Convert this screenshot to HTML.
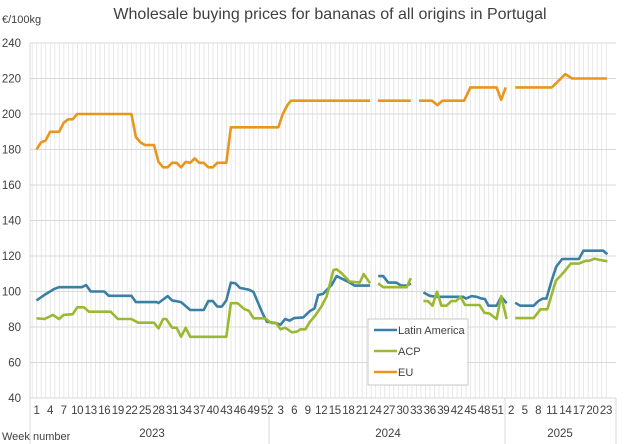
<!DOCTYPE html>
<html><head><meta charset="utf-8"><style>
body{margin:0;background:#fff;}
svg{display:block;font-family:"Liberation Sans",sans-serif;}
</style></head><body>
<svg id="c" width="625" height="444" xmlns="http://www.w3.org/2000/svg">
<rect width="625" height="444" fill="#fff"/>
<g id="grid"></g>
<text x="330" y="19" text-anchor="middle" font-size="16" fill="#404040">Wholesale buying prices for bananas of all origins in Portugal</text>
<text x="2" y="23" font-size="11" fill="#404040">€/100kg</text>
<g id="ylab" font-size="11.5" fill="#404040" text-anchor="end"></g>
<g id="xlab" font-size="11.5" fill="#404040" text-anchor="middle" letter-spacing="-0.3"></g>
<text x="2" y="440" font-size="11" fill="#404040">Week number</text>
<text x="152" y="437" font-size="11.5" fill="#404040" text-anchor="middle">2023</text>
<text x="388" y="437" font-size="11.5" fill="#404040" text-anchor="middle">2024</text>
<text x="560" y="437" font-size="11.5" fill="#404040" text-anchor="middle">2025</text>
<g id="series" fill="none" stroke-width="2.6" stroke-linejoin="round"></g>
<rect x="368" y="319" width="100" height="66" fill="#fff" stroke="#bbb" stroke-width="0.8"/>
<line x1="374" y1="330" x2="397" y2="330" stroke="#3a7fa4" stroke-width="2.6"/>
<text x="398" y="334" font-size="11" fill="#404040">Latin America</text>
<line x1="374" y1="351" x2="397" y2="351" stroke="#9bb832" stroke-width="2.6"/>
<text x="398" y="355" font-size="11" fill="#404040">ACP</text>
<line x1="374" y1="372" x2="397" y2="372" stroke="#e8961c" stroke-width="2.6"/>
<text x="398" y="376" font-size="11" fill="#404040">EU</text>
</svg>
<script>
var NS="http://www.w3.org/2000/svg";
function X(i){return 36.5+4.52*i;}
function Y(v){return 43+(240-v)*1.775;}
function el(p,t,a){var e=document.createElementNS(NS,t);for(var k in a)e.setAttribute(k,a[k]);p.appendChild(e);return e;}
var g=document.getElementById('grid');
for(var i=0;i<=127;i++){var x=30+4.52*i+2.2;el(g,'line',{x1:x,y1:43,x2:x,y2:398,stroke:'#e2e2e2','stroke-width':0.8});}
el(g,'line',{x1:30,y1:43,x2:30,y2:398,stroke:'#d9d9d9','stroke-width':1});
for(var v=40;v<=240;v+=20){el(g,'line',{x1:30,y1:Y(v),x2:616,y2:Y(v),stroke:'#d9d9d9','stroke-width':1});
 var t=el(document.getElementById('ylab'),'text',{x:21,y:Y(v)+4});t.textContent=v;}
[30,269,505,616].forEach(function(x){el(g,'line',{x1:x,y1:398,x2:x,y2:444,stroke:'#d9d9d9','stroke-width':1});});
var xl=document.getElementById('xlab');
function lab(i,s){var t=el(xl,'text',{x:X(i),y:414});t.textContent=s;}
for(var w=1;w<=52;w+=3)lab(w-1,w);
for(var w=3;w<=51;w+=3)lab(52+w-1,w);
for(var w=2;w<=23;w+=3)lab(104+w-1,w);
function draw(segs,col){segs.forEach(function(s){el(document.getElementById('series'),'polyline',{points:s.map(function(p){return X(p[0]).toFixed(1)+','+Y(p[1]).toFixed(1);}).join(' '),stroke:col});});}
var EU=[[[0,180],[1,184],[2,185],[3,190],[5,190],[6,195],[7,197],[8,197],[9,200],[21,200],[22,187],[23,184],[24,182.5],[26,182.5],[27,173],[28,170],[29,170],[30,172.5],[31,172.5],[32,170],[33,173],[34,172.5],[35,175],[36,172.5],[37,172.5],[38,170],[39,170],[40,172.5],[42,172.5],[43,192.5],[53.5,192.5],[54.5,200],[55.5,205],[56.3,207.5],[73.8,207.5]],
[[75.5,207.5],[82.8,207.5]],[[84.6,207.5],[87.5,207.5],[88.7,205],[89.8,207.5],[94.6,207.5],[96,215],[101.8,215],[102.8,208],[103.8,215]],
[[105.9,215],[114,215],[117,222.5],[118.5,220],[126.2,220]]];
var LA=[[[0,95],[2,98.5],[4,101.5],[5,102.4],[10,102.4],[11,103.6],[12,100],[15,100],[16,97.6],[21,97.6],[22,94],[26.6,94],[27,93.5],[29,97.4],[30,95],[32,94],[34,89.6],[37,89.6],[38,94.6],[39,94.6],[40,91.5],[41,91.5],[42,95],[43,105],[44,104.6],[45,102],[47,101],[48,99.7],[50,87.7],[51,83],[53,82.2],[54,81.3],[55,84.5],[56,83.6],[57,85],[59,85.4],[60.5,89],[61.5,90.5],[62.3,98],[63.4,98.7],[65.3,103.7],[66.4,108.7],[69.3,105],[70.4,103.3],[73.8,103.3]],
[[75.6,108.7],[76.7,108.7],[77.8,105],[79.6,105],[80.7,103.3],[82,103.3],[82.8,104.6]],
[[85.6,99.5],[87,97.6],[88.5,97],[94.4,97],[95,96],[96.3,97.4],[97.4,97],[98.5,96],[99.2,95.8],[100,92],[101.8,92],[102.8,97],[104,93.4]],
[[105.9,93.7],[107,92],[110,92],[111,94.6],[112,96],[112.8,96],[114,106.5],[115,114],[116.3,118.3],[120,118.3],[121,123],[125.4,123],[126.3,121]]];
var ACP=[[[0,84.9],[1.8,84.5],[3.6,86.8],[5,84.5],[6,86.8],[8,87.2],[9,91.1],[10.5,91.1],[11.6,88.6],[16.4,88.6],[18,84.5],[21,84.5],[22.5,82.4],[26,82.4],[27,79.2],[28,84.5],[28.7,84.5],[30,79.6],[31,79.6],[32,74.5],[33,79.6],[34,74.5],[42,74.5],[43,93.4],[44.5,93.4],[46,90.1],[47,89.1],[48,84.9],[50.6,84.9],[52,82.2],[53,82.2],[54,78.7],[55,79.6],[56.5,77],[57.6,77.4],[58.4,78.7],[59.5,78.7],[60.5,83],[61.6,86.2],[63,91.5],[64.2,97.3],[65.7,112.1],[66.4,112.5],[67.5,110.3],[69.3,105.6],[71.5,105],[72.4,109.8],[73.8,104.6]],
[[75.6,104.6],[76.7,102.4],[81.9,102.4],[82.8,107.5]],
[[85.6,94.6],[86.6,94.6],[87.6,92],[88.6,99.9],[89.6,92],[90.7,92],[91.8,94.6],[92.8,94.6],[93.8,97],[94.8,92.4],[98,92.4],[99.1,88],[100.2,87.6],[101.8,84.5],[102.8,97.4],[104,84.5]],
[[105.9,85],[110,85],[111.5,90],[113,90],[114.9,106],[116.7,111],[118.2,115.7],[120,115.7],[121.5,117.3],[122.3,117.3],[123.4,118.5],[124.6,117.8],[126.3,117]]];
draw(EU,'#e8961c');draw(LA,'#3a7fa4');draw(ACP,'#9bb832');
</script>
</body></html>
